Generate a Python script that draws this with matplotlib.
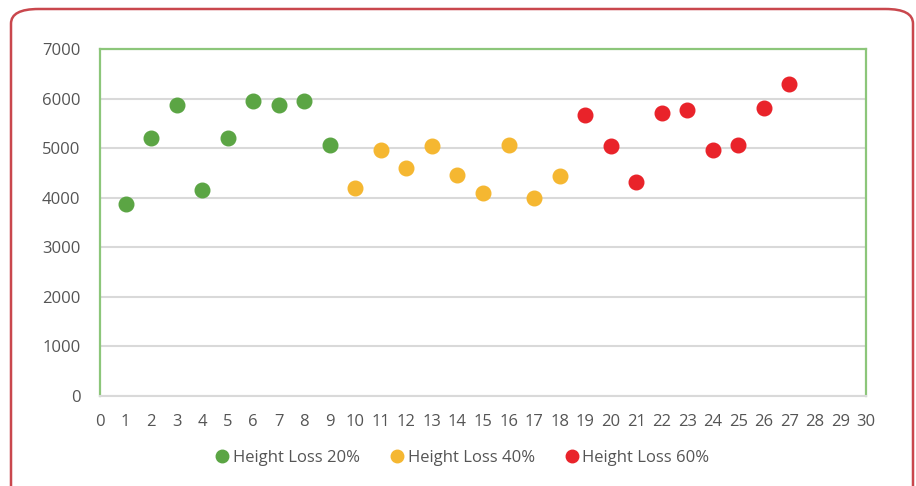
import matplotlib
matplotlib.use("Agg")
import matplotlib.pyplot as plt
from matplotlib.patches import FancyBboxPatch
from matplotlib.lines import Line2D

# values
x_20 = [1, 2, 3, 4, 5, 6, 7, 8, 9]
y_20 = [3880, 5195, 5865, 4150, 5205, 5945, 5870, 5960, 5060]
x_40 = [10, 11, 12, 13, 14, 15, 16, 17, 18]
y_40 = [4190, 4960, 4590, 5045, 4455, 4095, 5060, 3995, 4440]
x_60 = [19, 20, 21, 22, 23, 24, 25, 26, 27]
y_60 = [5665, 5042, 4320, 5710, 5765, 4970, 5070, 5800, 6290]

labels = ["Height Loss 20%", "Height Loss 40%", "Height Loss 60%"]
colors = ["#5ba544", "#f5b731", "#e9232a"]
y_ticks = [0, 1000, 2000, 3000, 4000, 5000, 6000, 7000]
x_ticks = list(range(0, 31))

plt.rcParams["font.family"] = ["Open Sans", "DejaVu Sans"]
TXT = "#555555"

fig = plt.figure(figsize=(9.16, 4.86), dpi=100)

# rounded red frame around the whole figure
frame = FancyBboxPatch((11 / 916, -0.05), 902 / 916, 1 - 9 / 486 + 0.05,
                       boxstyle="round,pad=0,rounding_size=0.03",
                       transform=fig.transFigure, fill=False,
                       edgecolor="#c9474d", lw=1.8, zorder=0)
fig.patches.append(frame)

ax = fig.add_axes([100 / 916, 1 - 396 / 486, 766 / 916, 347 / 486])
series = [(x_20, y_20), (x_40, y_40), (x_60, y_60)]
for (xs, ys), c, lab in zip(series, colors, labels):
    ax.plot(xs, ys, "o", color=c, ms=10.5, mec=c, label=lab, zorder=3)

ax.set_xlim(0, 30)
ax.set_ylim(0, 7000)
ax.set_xticks(x_ticks)
ax.set_yticks(y_ticks)
ax.tick_params(length=0, labelsize=12, labelcolor=TXT)
ax.tick_params(axis="y", pad=14)
ax.tick_params(axis="x", pad=13)
ax.yaxis.grid(True, color="#d9d9d9", lw=1.5)
ax.set_axisbelow(True)
for side in ("left", "top", "right"):
    ax.spines[side].set_color("#8cc67a")
    ax.spines[side].set_linewidth(1.6)
ax.spines["bottom"].set_color("#d9d9d9")
ax.spines["bottom"].set_linewidth(1.5)

handles = [Line2D([], [], ls="", marker="o", ms=9, color=c, mec=c) for c in colors]
fig.legend(handles, labels, loc="center", bbox_to_anchor=(461 / 916, 1 - 458 / 486),
           ncol=3, frameon=False, fontsize=12, labelcolor=TXT,
           handletextpad=0.05, columnspacing=1.6, handlelength=1.2)

fig.savefig("out.png", dpi=100)
